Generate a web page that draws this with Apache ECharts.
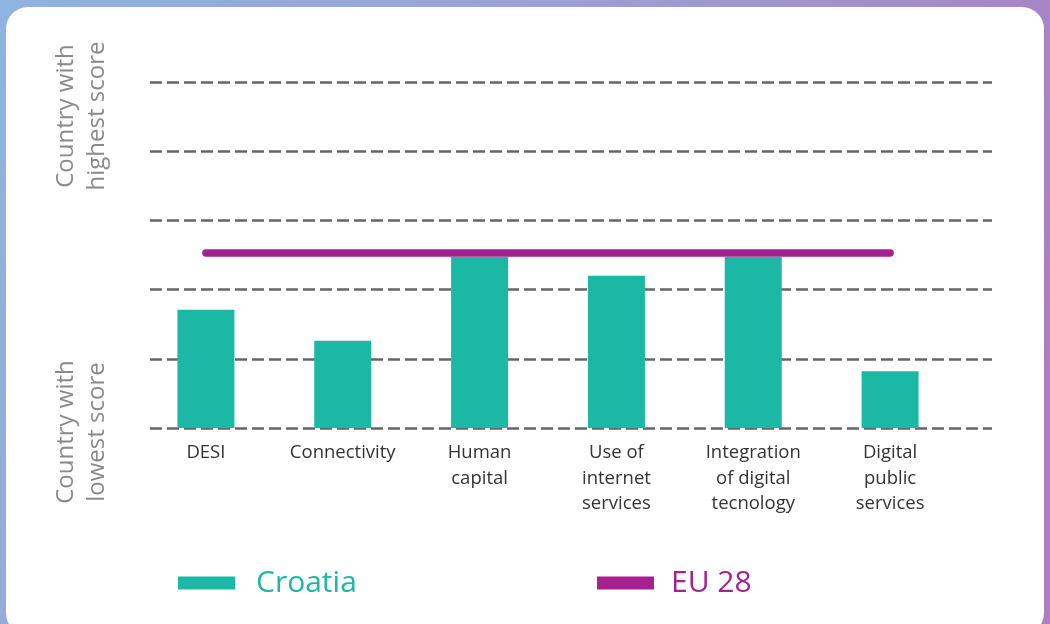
<!DOCTYPE html>
<html>
<head>
<meta charset="utf-8">
<script src="https://cdn.jsdelivr.net/npm/echarts@6/dist/echarts.min.js"></script>
<style>html,body{margin:0;padding:0;}#c{width:1050px;height:624px;}</style>
</head>
<body>
<div id="c"></div>
<script>
var categories = ['DESI', 'Connectivity', 'Human\ncapital', 'Use of\ninternet\nservices', 'Integration\nof digital\ntecnology', 'Digital\npublic\nservices'];
var croatiaValues = [1.71, 1.26, 2.47, 2.2, 2.47, 0.82];
var eu28Values = [2.53, 2.53, 2.53, 2.53, 2.53, 2.53];
var yTop = 'Country with\nhighest score';
var yBottom = 'Country with\nlowest score';

var TEAL = '#1bb9a5', PURPLE = '#a3228f';
var font = '"Open Sans", "Noto Sans", sans-serif';
var chart = echarts.init(document.getElementById('c'));
chart.setOption({
  backgroundColor: new echarts.graphic.LinearGradient(0, 0, 1, 0.6, [
    {offset: 0, color: '#8fb4e0'},
    {offset: 0.5, color: '#9c9fd6'},
    {offset: 1, color: '#ab7dc2'}
  ]),
  animation: false,
  graphic: [
    {type: 'rect', z: -100, shape: {x: 6, y: 7, width: 1038, height: 628, r: 22}, style: {fill: '#ffffff'}},
    {type: 'text', x: 82, y: 116, rotation: Math.PI / 2,
      style: {text: yTop, font: '24px ' + font, fill: '#8a8a8a', textAlign: 'center', textVerticalAlign: 'middle', lineHeight: 31}},
    {type: 'text', x: 82, y: 432, rotation: Math.PI / 2,
      style: {text: yBottom, font: '24px ' + font, fill: '#8a8a8a', textAlign: 'center', textVerticalAlign: 'middle', lineHeight: 31}}
  ],
  legend: [
    {data: ['Croatia'], left: 173, top: 563, icon: 'rect', itemWidth: 57, itemHeight: 13,
      textStyle: {color: TEAL, fontSize: 30, fontFamily: font, padding: [0, 0, 0, 16]}},
    {data: ['EU 28'], left: 592, top: 563, icon: 'rect', itemWidth: 57, itemHeight: 13,
      textStyle: {color: PURPLE, fontSize: 30, fontFamily: font, padding: [0, 0, 0, 12]}}
  ],
  grid: [
    {left: 150, right: 58, top: 82, bottom: 196},
    {left: 137.5, right: 91.5, top: 82, bottom: 196}
  ],
  xAxis: [
    {gridIndex: 0, type: 'value', show: false, min: 0, max: 1},
    {gridIndex: 1, type: 'category', data: categories, boundaryGap: true,
      axisLine: {show: false}, axisTick: {show: false},
      axisLabel: {interval: 0, margin: 12, color: '#333', fontSize: 18.5, lineHeight: 25.5, fontFamily: font}}
  ],
  yAxis: [
    {gridIndex: 0, type: 'value', min: 0, max: 5, interval: 1,
      axisLabel: {show: false}, axisLine: {show: false}, axisTick: {show: false},
      splitLine: {show: true, lineStyle: {color: '#666', width: 2.5, type: [12, 5]}}},
    {gridIndex: 1, type: 'value', min: 0, max: 5, interval: 1, show: false, splitLine: {show: false}}
  ],
  series: [
    {name: 'Croatia', type: 'bar', xAxisIndex: 1, yAxisIndex: 1, data: croatiaValues, barWidth: 57,
      itemStyle: {color: TEAL}, z: 3},
    {name: 'EU 28', type: 'line', xAxisIndex: 1, yAxisIndex: 1, data: eu28Values, showSymbol: false, symbol: 'none',
      itemStyle: {color: PURPLE}, lineStyle: {color: PURPLE, width: 7.5, cap: 'round'}, z: 4}
  ]
});
</script>
</body>
</html>
